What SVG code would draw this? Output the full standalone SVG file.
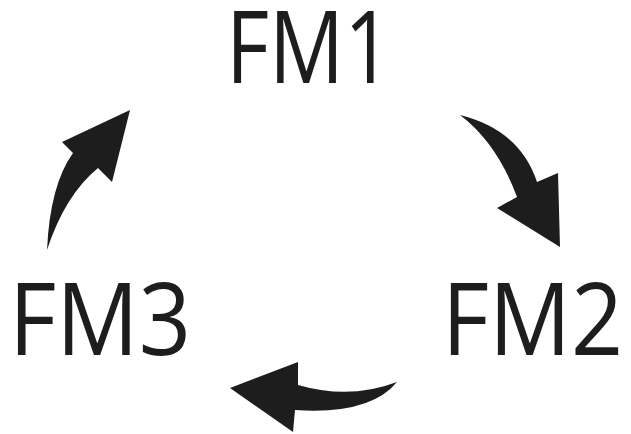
<svg xmlns="http://www.w3.org/2000/svg" width="631" height="434" viewBox="0 0 631 434">
<style>
.lbl{font-family:"Open Sans","DejaVu Sans",sans-serif;font-size:100px;fill:#1d1d1d}
.arr{fill:#1d1d1d;stroke:none}
</style>
<rect width="631" height="434" fill="#ffffff"/>
<g id="FM1"><text class="lbl" x="226" y="83" textLength="166" lengthAdjust="spacingAndGlyphs">FM1</text></g>
<g id="FM2"><text class="lbl" x="442" y="355" textLength="181" lengthAdjust="spacingAndGlyphs">FM2</text></g>
<g id="FM3"><text class="lbl" x="9" y="355" textLength="182" lengthAdjust="spacingAndGlyphs">FM3</text></g>
<g id="connectors">
<path class="arr" d="M460,115 Q520,130 537,182 L558,173 L560,247 L497,208 L517,197 Q497,143 460,115 Z"/>
<path class="arr" d="M397,382 Q350,400 298,385 L298,362 L230,388 L293,432 L295,410 Q370,415 397,382 Z"/>
<path class="arr" d="M47,250 Q50,185 73,153 L62,142 L130,110 L112,182 L98,168 Q65,195 47,250 Z"/>
</g>
</svg>
